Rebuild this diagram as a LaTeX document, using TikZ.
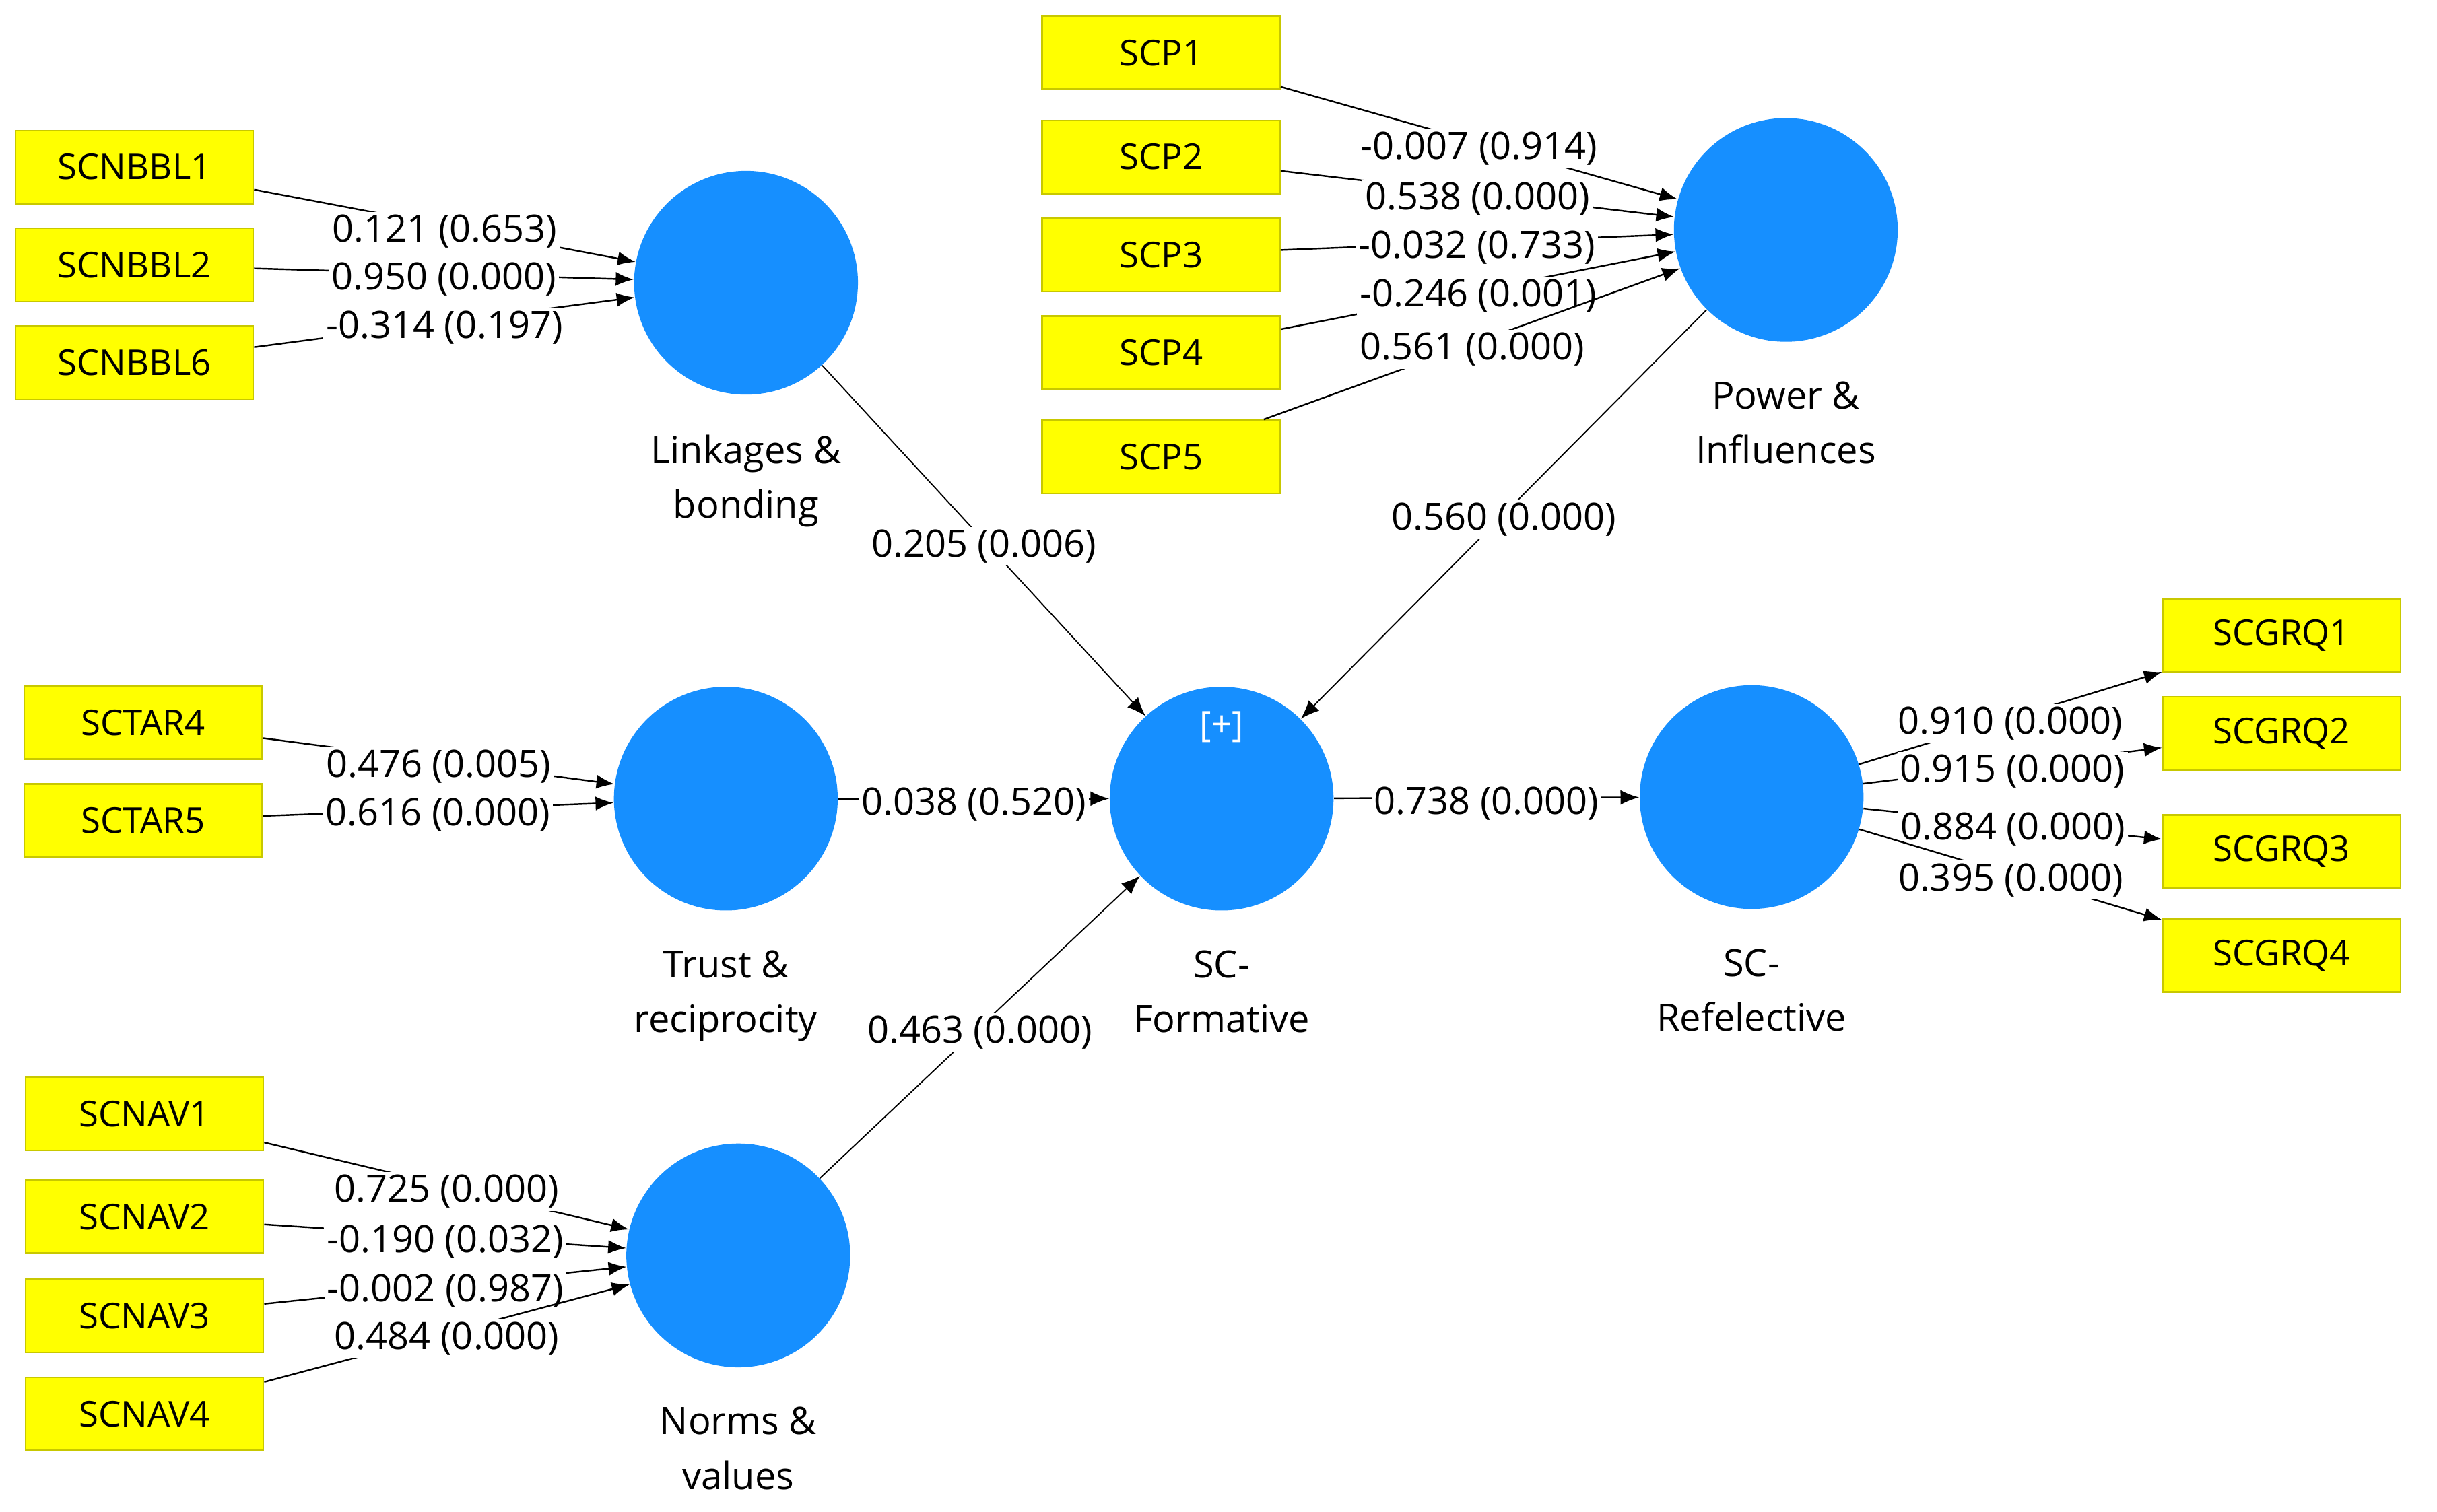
\documentclass[tikz,border=0pt]{standalone}
\usepackage{fontspec}
\setmainfont{Open Sans}
\usepackage{tikz}
\usetikzlibrary{positioning}
\usetikzlibrary{arrows.meta}
\definecolor{lvblue}{RGB}{22,143,255}
\definecolor{mvyellow}{RGB}{255,255,0}
\definecolor{mvedge}{RGB}{200,200,0}

\begin{document}
\begin{tikzpicture}[
  mv/.style={rectangle,draw=mvedge,line width=0.6pt,fill=mvyellow,minimum width=3.06cm,minimum height=0.94cm,inner sep=0pt,font=\fontsize{13}{16}\selectfont},
  lv/.style={circle,fill=lvblue,draw=none,minimum size=2.88cm,inner sep=0pt},
  lvname/.style={align=center,inner sep=0pt,font=\fontsize{13.8}{20}\selectfont},
  coef/.style={fill=white,inner sep=1pt,yshift=-2pt,font=\fontsize{13.8}{16}\selectfont},
  ld/.style={line width=0.6pt,-{Latex[length=2.3mm,width=1.8mm]}},
  pth/.style={line width=0.45pt,-{Latex[length=2.4mm,width=1.9mm]}},
  font=\fontsize{13}{20}\selectfont
]
\useasboundingbox (0,0) rectangle (31.36,19.46);

% latent variables
\node[lv] (lnk) at (9.60,15.82) {};
\node[lv] (pow) at (22.98,16.50) {};
\node[lv] (tru) at (9.34,9.18) {};
\node[lv] (frm) at (15.72,9.18) {};
\node[lv] (rfl) at (22.54,9.20) {};
\node[lv] (nrm) at (9.50,3.30) {};
\node[text=white] (plus) at (15.72,10.10) {[+]};

\node[lvname,below=0.5cm of lnk] (lnkname) {Linkages \&\\bonding};
\node[lvname,below=0.5cm of pow] (powname) {Power \&\\Influences};
\node[lvname,below=0.5cm of tru] (truname) {Trust \&\\reciprocity};
\node[lvname,below=0.5cm of frm] (frmname) {SC-\\Formative};
\node[lvname,below=0.5cm of rfl] (rflname) {SC-\\Refelective};
\node[lvname,below=0.5cm of nrm] (nrmname) {Norms \&\\values};

% indicators
\node[mv] (bbl1) at (1.73,17.31) {SCNBBL1};
\node[mv] (bbl2) at (1.73,16.05) {SCNBBL2};
\node[mv] (bbl6) at (1.73,14.79) {SCNBBL6};
\node[mv] (scp1) at (14.94,18.78) {SCP1};
\node[mv] (scp2) at (14.94,17.44) {SCP2};
\node[mv] (scp3) at (14.94,16.18) {SCP3};
\node[mv] (scp4) at (14.94,14.92) {SCP4};
\node[mv] (scp5) at (14.94,13.58) {SCP5};
\node[mv] (tar4) at (1.84,10.16) {SCTAR4};
\node[mv] (tar5) at (1.84,8.90) {SCTAR5};
\node[mv] (nav1) at (1.86,5.12) {SCNAV1};
\node[mv] (nav2) at (1.86,3.80) {SCNAV2};
\node[mv] (nav3) at (1.86,2.52) {SCNAV3};
\node[mv] (nav4) at (1.86,1.26) {SCNAV4};
\node[mv] (grq1) at (29.36,11.28) {SCGRQ1};
\node[mv] (grq2) at (29.36,10.02) {SCGRQ2};
\node[mv] (grq3) at (29.36,8.50) {SCGRQ3};
\node[mv] (grq4) at (29.36,7.16) {SCGRQ4};

% outer weights and loadings
\draw[ld] (bbl1) -- node[coef] {0.121 (0.653)} (lnk);
\draw[ld] (bbl2) -- node[coef] {0.950 (0.000)} (lnk);
\draw[ld] (bbl6) -- node[coef] {-0.314 (0.197)} (lnk);

\draw[ld] (scp1) -- node[coef] {-0.007 (0.914)} (pow);
\draw[ld] (scp2) -- node[coef] {0.538 (0.000)} (pow);
\draw[ld] (scp3) -- node[coef] {-0.032 (0.733)} (pow);
\draw[ld] (scp4) -- node[coef] {-0.246 (0.001)} (pow);
\draw[ld] (scp5) -- node[coef] {0.561 (0.000)} (pow);

\draw[ld] (tar4) -- node[coef] {0.476 (0.005)} (tru);
\draw[ld] (tar5) -- node[coef] {0.616 (0.000)} (tru);

\draw[ld] (nav1) -- node[coef] {0.725 (0.000)} (nrm);
\draw[ld] (nav2) -- node[coef] {-0.190 (0.032)} (nrm);
\draw[ld] (nav3) -- node[coef] {-0.002 (0.987)} (nrm);
\draw[ld] (nav4) -- node[coef] {0.484 (0.000)} (nrm);

\draw[ld] (rfl) -- node[coef] {0.910 (0.000)} (grq1);
\draw[ld] (rfl) -- node[coef] {0.915 (0.000)} (grq2);
\draw[ld] (rfl) -- node[coef] {0.884 (0.000)} (grq3);
\draw[ld] (rfl) -- node[coef] {0.395 (0.000)} (grq4);

% structural paths
\draw[pth] (lnk) -- node[coef] {0.205 (0.006)} (frm);
\draw[pth] (pow) -- node[coef] {0.560 (0.000)} (frm);
\draw[pth,line width=0.6pt] (tru) -- node[coef] {0.038 (0.520)} (frm);
\draw[pth] (nrm) -- node[coef] {0.463 (0.000)} (frm);
\draw[pth,line width=0.6pt] (frm) -- node[coef] {0.738 (0.000)} (rfl);

\end{tikzpicture}
\end{document}
